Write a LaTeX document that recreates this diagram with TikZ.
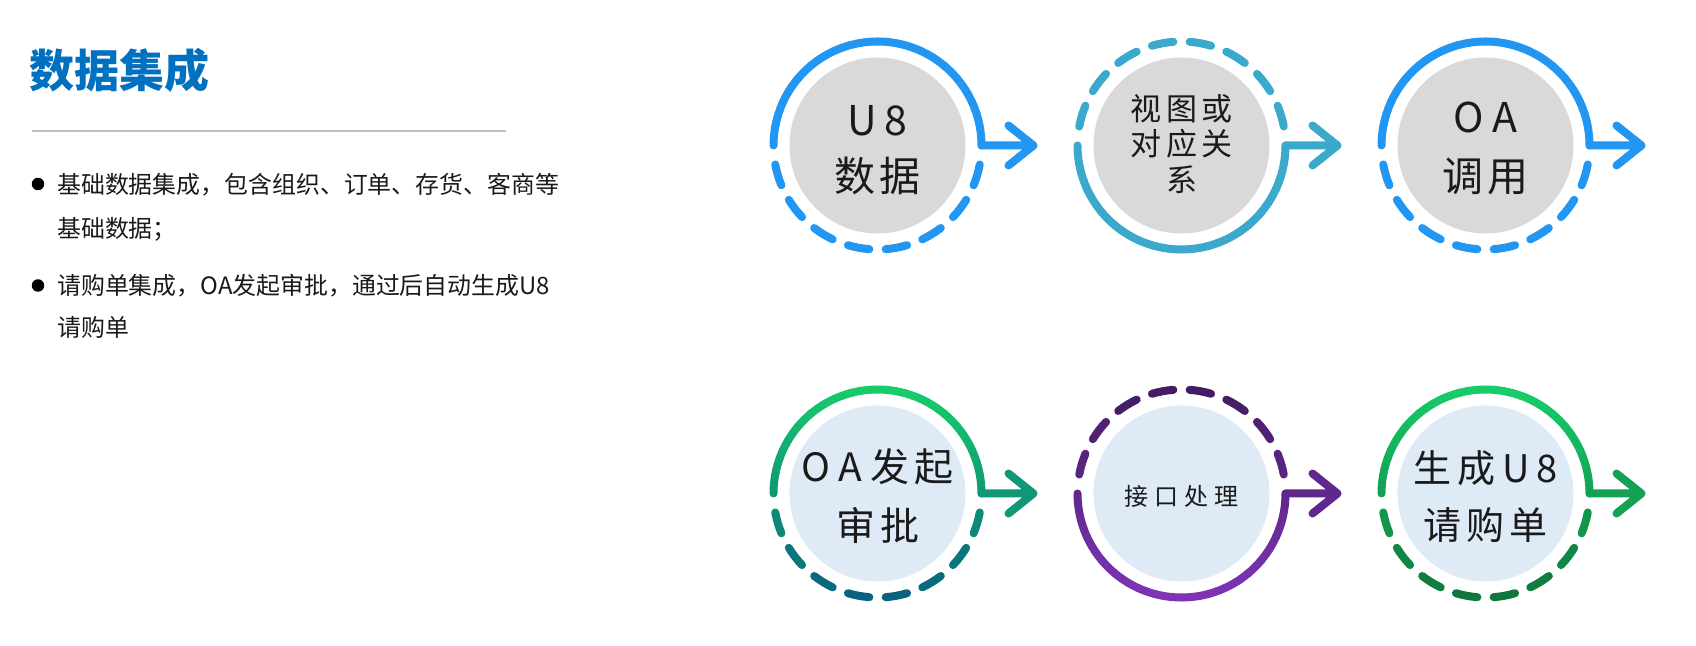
\documentclass[tikz,border=0pt]{standalone}
\usepackage{fontspec}
\setmainfont{Noto Sans CJK SC}
\usetikzlibrary{calc}
\definecolor{ublue}{RGB}{33,150,243}
\definecolor{uteal}{RGB}{58,169,204}
\definecolor{greenT}{RGB}{24,204,106}
\definecolor{tealB}{RGB}{8,98,128}
\definecolor{purpT}{RGB}{66,28,98}
\definecolor{purpB}{RGB}{126,52,182}
\definecolor{greenB}{RGB}{16,118,60}
\definecolor{diskgray}{RGB}{217,217,217}
\definecolor{diskblue}{RGB}{222,234,246}
\definecolor{titleblue}{RGB}{0,112,192}
\definecolor{rulegray}{RGB}{191,191,191}
\definecolor{txtc}{RGB}{26,26,26}
\tikzset{
  ring/.style={line width=8pt, line cap=round, line join=round},
  disk/.style={circle, inner sep=0pt, minimum size=176pt},
  ctext/.style={inner sep=0pt, anchor=base, text=txtc},
  btext/.style={inner sep=0pt, anchor=base west, text=txtc, font=\fontsize{23.9pt}{23.9pt}\selectfont},
  bullet/.style={circle, fill=black, inner sep=0pt, minimum size=12.5pt}
}
% #1 centre node, #2 top colour, #3 bottom colour, #4 start angle of solid half
\newcommand\ringdraw[4]{%
  \foreach \ringa in {0,5,...,175}{
    \pgfmathsetmacro\ringang{#4+\ringa+2.5}
    \pgfmathsetmacro\ringpct{50*(1-sin(\ringang))}
    \draw[ring, color=#3!\ringpct!#2] ([shift={(#4+\ringa:104pt)}]#1.center) arc[start angle=#4+\ringa, end angle=#4+\ringa+5, radius=104pt];
  }
  \foreach \ringk in {0,...,7}{
    \pgfmathsetmacro\ringang{#4+180+16.5+21*\ringk}
    \pgfmathsetmacro\ringpct{50*(1-sin(\ringang))}
    \draw[ring, color=#3!\ringpct!#2] ([shift={(\ringang-6:104pt)}]#1.center) arc[start angle=\ringang-6, end angle=\ringang+6, radius=104pt];
  }
  \draw[ring, color=#3!50!#2] ([shift={(104pt,0pt)}]#1.center) -- ([shift={(156pt,0pt)}]#1.center)
     ([shift={(131pt,20pt)}]#1.center) -- ([shift={(156pt,0pt)}]#1.center) -- ([shift={(131pt,-20pt)}]#1.center);
}
\begin{document}
\begin{tikzpicture}[x=1pt,y=1pt]
\useasboundingbox (0,0) rectangle (1696,645);
\fill[white] (0,0) rectangle (1696,645);

% left column
\node[inner sep=0pt, anchor=base west, text=titleblue, font=\fontsize{45pt}{45pt}\selectfont\bfseries] (title) at (29,645-88) {数据集成};
\coordinate (ruleL) at (32,645-131);
\coordinate (ruleR) at (506,645-131);
\draw[line width=2.5pt, color=rulegray] (ruleL) -- (ruleR);
\node[bullet] (b1) at (38,645-184) {};
\node[bullet] (b2) at (38,645-285.5) {};
\node[btext] (l1) at (57,645-194) {基础数据集成，包含组织、订单、存货、客商等};
\node[btext] (l2) at (57,645-238) {基础数据；};
\node[btext] (l3) at (57,645-295) {请购单集成，OA发起审批，通过后自动生成U8};
\node[btext] (l4) at (57,645-337) {请购单};

% disks
\node[disk, fill=diskgray] (n1) at (877.5,645-145.5) {};
\node[disk, fill=diskgray] (n2) at (1181.5,645-145.5) {};
\node[disk, fill=diskgray] (n3) at (1485.5,645-145.5) {};
\node[disk, fill=diskblue] (n4) at (877.5,645-493.5) {};
\node[disk, fill=diskblue] (n5) at (1181.5,645-493.5) {};
\node[disk, fill=diskblue] (n6) at (1485.5,645-493.5) {};

% rings and arrows
\ringdraw{n1}{ublue}{ublue}{0}
\ringdraw{n2}{uteal}{uteal}{180}
\ringdraw{n3}{ublue}{ublue}{0}
\ringdraw{n4}{greenT}{tealB}{0}
\ringdraw{n5}{purpT}{purpB}{180}
\ringdraw{n6}{greenT}{greenB}{0}

% texts in circles
\node[ctext, font=\fontsize{41pt}{41pt}\selectfont] (t1a) at (877.5,645-136) {U\kern8pt 8};
\node[ctext, font=\fontsize{41pt}{41pt}\selectfont] (t1b) at (877.5,645-192) {数\kern4pt 据};
\node[ctext, font=\fontsize{31pt}{31pt}\selectfont] (t2a) at (1181.5,645-121) {视\kern4.5pt 图\kern4.5pt 或};
\node[ctext, font=\fontsize{31pt}{31pt}\selectfont] (t2b) at (1181.5,645-156) {对\kern4.5pt 应\kern4.5pt 关};
\node[ctext, font=\fontsize{31pt}{31pt}\selectfont] (t2c) at (1181.5,645-192) {系};
\node[ctext, font=\fontsize{41pt}{41pt}\selectfont] (t3a) at (1485.5,645-133) {O\kern8pt A};
\node[ctext, font=\fontsize{41pt}{41pt}\selectfont] (t3b) at (1485.5,645-192) {调\kern4pt 用};
\node[ctext, font=\fontsize{39pt}{39pt}\selectfont] (t4a) at (877.5,645-482) {O\kern8pt A\kern8pt 发\kern5pt 起};
\node[ctext, font=\fontsize{39pt}{39pt}\selectfont] (t4b) at (877.5,645-541) {审\kern5pt 批};
\node[ctext, font=\fontsize{24pt}{24pt}\selectfont] (t5) at (1181.5,645-506) {接\kern6pt 口\kern6pt 处\kern6pt 理};
\node[ctext, font=\fontsize{38pt}{38pt}\selectfont] (t6a) at (1485.5,645-483) {生\kern6pt 成\kern7pt U\kern7pt 8};
\node[ctext, font=\fontsize{38pt}{38pt}\selectfont] (t6b) at (1485.5,645-540) {请\kern5pt 购\kern5pt 单};
\end{tikzpicture}
\end{document}
